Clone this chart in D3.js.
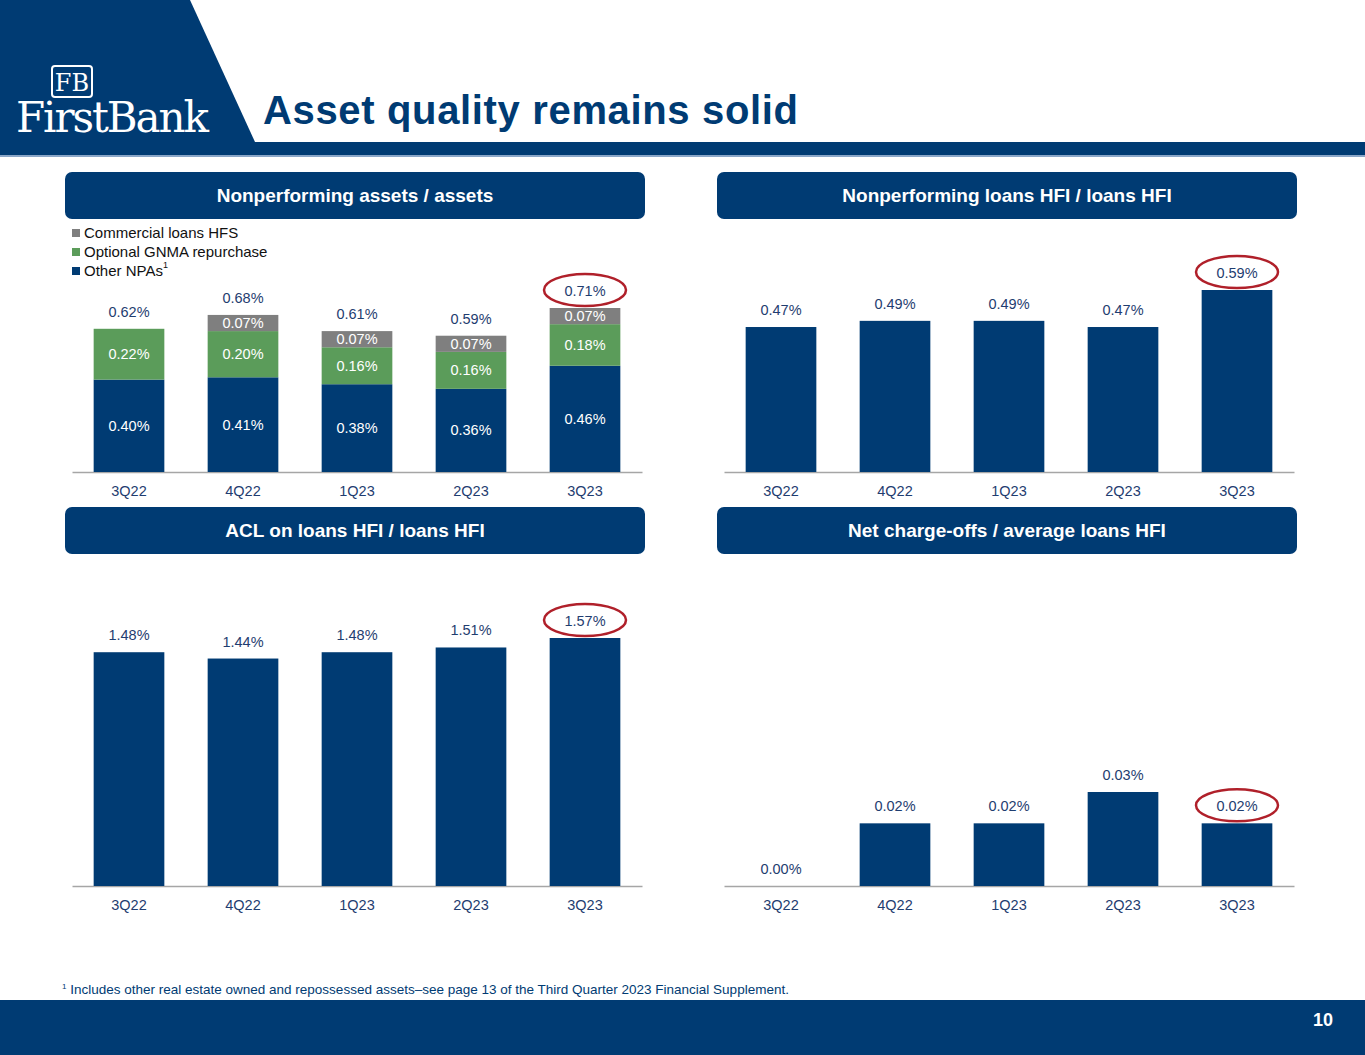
<!DOCTYPE html>
<html><head><meta charset="utf-8">
<script src="https://cdn.jsdelivr.net/npm/d3@7"></script>
<style>body{margin:0;background:#fff}svg{display:block;font-family:"Liberation Sans",Arial,sans-serif}</style>
</head><body>
<script>
// 数据
var quarters = ["3Q22", "4Q22", "1Q23", "2Q23", "3Q23"];
var otherNPAs = [0.40, 0.41, 0.38, 0.36, 0.46];
var gnma = [0.22, 0.20, 0.16, 0.16, 0.18];
var commercialHFS = [0.00, 0.07, 0.07, 0.07, 0.07];
var npaTotals = [0.62, 0.68, 0.61, 0.59, 0.71];
var nplRatio = [0.47, 0.49, 0.49, 0.47, 0.59];
var aclRatio = [1.48, 1.44, 1.48, 1.51, 1.57];
var ncoRatio = [0.00, 0.02, 0.02, 0.03, 0.02];

var w = 1365, h = 1055;
var navy = "#003b73", green = "#5b9c5a", gray = "#7f7f7f", labelCol = "#1f3d70";
var svg = d3.select("body").append("svg").attr("width", w).attr("height", h);

// 页眉
svg.append("path").attr("d", "M0,0H190L255,142H0Z").attr("fill", navy);
svg.append("rect").attr("x", 0).attr("y", 142).attr("width", w).attr("height", 13).attr("fill", navy);
svg.append("rect").attr("x", 0).attr("y", 155).attr("width", w).attr("height", 2).attr("fill", "#8aa6c8");
var logo = svg.append("g").attr("fill", "#fff").style("font-family", "'DejaVu Serif','Liberation Serif',serif");
logo.append("rect").attr("x", 52).attr("y", 66).attr("width", 40).attr("height", 31).attr("rx", 3)
  .attr("fill", "none").attr("stroke", "#fff").attr("stroke-width", 2);
logo.append("text").attr("x", 72).attr("y", 91).attr("text-anchor", "middle").attr("font-size", 24).text("FB");
logo.append("text").attr("x", 16).attr("y", 132).attr("font-size", 42).attr("textLength", 193).text("FirstBank");
svg.append("text").attr("x", 263).attr("y", 124).attr("font-size", 40).attr("font-weight", "bold")
  .attr("fill", navy).attr("textLength", 535).text("Asset quality remains solid");

// 页脚
svg.append("rect").attr("x", 0).attr("y", 1000).attr("width", w).attr("height", 55).attr("fill", navy);
svg.append("text").attr("x", 1333).attr("y", 1026).attr("text-anchor", "end").attr("font-size", 18)
  .attr("font-weight", "bold").attr("fill", "#fff").text("10");
var fn = svg.append("text").attr("x", 62).attr("y", 994).attr("font-size", 13.5).attr("fill", navy);
fn.append("tspan").attr("font-size", 8).attr("dy", -5).text("1");
fn.append("tspan").attr("dy", 5).text(" Includes other real estate owned and repossessed assets–see page 13 of the Third Quarter 2023 Financial Supplement.");

function header(x, y, text) {
  svg.append("rect").attr("x", x).attr("y", y).attr("width", 580).attr("height", 47).attr("rx", 7).attr("fill", navy);
  svg.append("text").attr("x", x + 290).attr("y", y + 30).attr("text-anchor", "middle").attr("font-size", 19)
    .attr("font-weight", "bold").attr("fill", "#fff").text(text);
}
header(65, 172, "Nonperforming assets / assets");
header(717, 172, "Nonperforming loans HFI / loans HFI");
header(65, 507, "ACL on loans HFI / loans HFI");
header(717, 507, "Net charge-offs / average loans HFI");

function panel(x0, x1, base, maxV, topY) {
  var x = d3.scaleBand().domain(quarters).range([x0, x1]).paddingInner(0.38).paddingOuter(0.19);
  var y = d3.scaleLinear().domain([0, maxV]).range([base, topY]);
  var ax = svg.append("g").attr("transform", "translate(0," + base + ")").call(d3.axisBottom(x).tickSize(0).tickPadding(14));
  ax.select(".domain").attr("stroke", "#a6a6a6").attr("stroke-width", 1.5);
  ax.selectAll("text").attr("font-size", 14.5).attr("fill", labelCol).style("font-family", "'Liberation Sans',Arial,sans-serif");
  return { x: x, y: y };
}
function fmt(v) { return v.toFixed(2) + "%"; }
function ellipse(cx, cy) {
  svg.append("ellipse").attr("cx", cx).attr("cy", cy).attr("rx", 41).attr("ry", 16)
    .attr("fill", "none").attr("stroke", "#b0202a").attr("stroke-width", 2.5);
}

// 图1：堆叠柱状图
var p1 = panel(72, 642, 472, 0.71, 308);
var layers = [otherNPAs, gnma, commercialHFS], colors = [navy, green, gray];
quarters.forEach(function (q, i) {
  var cum = 0;
  layers.forEach(function (arr, k) {
    var v = arr[i];
    if (v <= 0) return;
    var y0 = p1.y(cum), y1 = p1.y(cum + v);
    svg.append("rect").attr("x", p1.x(q)).attr("y", y1).attr("width", p1.x.bandwidth()).attr("height", y0 - y1).attr("fill", colors[k]);
    svg.append("text").attr("x", p1.x(q) + p1.x.bandwidth() / 2).attr("y", (y0 + y1) / 2 + 5)
      .attr("text-anchor", "middle").attr("font-size", 14.5).attr("fill", "#fff").text(fmt(v));
    cum += v;
  });
  svg.append("text").attr("x", p1.x(q) + p1.x.bandwidth() / 2).attr("y", p1.y(npaTotals[i]) - 12)
    .attr("text-anchor", "middle").attr("font-size", 14.5).attr("fill", labelCol).text(fmt(npaTotals[i]));
});
ellipse(p1.x("3Q23") + p1.x.bandwidth() / 2, p1.y(0.71) - 18);
// 图例
var legendItems = [["Commercial loans HFS", gray], ["Optional GNMA repurchase", green], ["Other NPAs", navy]];
legendItems.forEach(function (d, i) {
  var ly = 233 + i * 19;
  svg.append("rect").attr("x", 72).attr("y", ly - 4).attr("width", 8).attr("height", 8).attr("fill", d[1]);
  var t = svg.append("text").attr("x", 84).attr("y", ly + 5).attr("font-size", 15).attr("fill", "#111").text(d[0]);
  if (i === 2) t.append("tspan").attr("font-size", 9).attr("dy", -8).text("1");
});

function simple(x0, x1, base, data, maxV, topY) {
  var p = panel(x0, x1, base, maxV, topY);
  quarters.forEach(function (q, i) {
    var v = data[i];
    svg.append("rect").attr("x", p.x(q)).attr("y", p.y(v)).attr("width", p.x.bandwidth()).attr("height", base - p.y(v)).attr("fill", navy);
    svg.append("text").attr("x", p.x(q) + p.x.bandwidth() / 2).attr("y", p.y(v) - 12)
      .attr("text-anchor", "middle").attr("font-size", 14.5).attr("fill", labelCol).text(fmt(v));
  });
  ellipse(p.x(quarters[4]) + p.x.bandwidth() / 2, p.y(data[4]) - 18);
}
simple(724, 1294, 472, nplRatio, 0.59, 290);
simple(72, 642, 886, aclRatio, 1.57, 638);
simple(724, 1294, 886, ncoRatio, 0.03, 792);
</script>
</body></html>
